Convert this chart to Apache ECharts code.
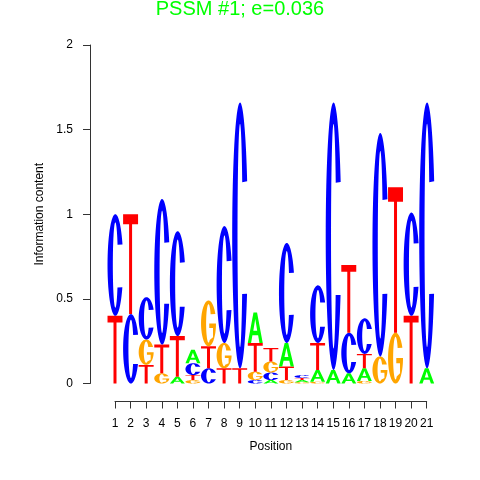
<!DOCTYPE html>
<html><head><meta charset="utf-8">
<script src="https://cdn.jsdelivr.net/npm/echarts@6/dist/echarts.min.js"></script>
<style>html,body{margin:0;padding:0;background:#fff}#c{width:480px;height:480px}</style>
</head><body><div id="c"></div>
<script>
// ---- data (information content per letter, per position) ----
const positions = [1,2,3,4,5,6,7,8,9,10,11,12,13,14,15,16,17,18,19,20,21];
const letters = ['A','C','G','T'];
const heightA = [0,    0,    0,    0,    0.04, 0.08, 0,    0,    0,    0.18, 0.02,  0.14, 0.012, 0.07, 0.08, 0.06, 0.075, 0,    0,    0,    0.09];
const heightC = [0.60, 0.41, 0.25, 0.86, 0.62, 0.07, 0.09, 0.69, 1.57, 0.02, 0.045, 0.59, 0.016, 0.34, 1.58, 0.24, 0.21,  1.32, 0,    0.61, 1.57];
const heightG = [0,    0,    0.15, 0.06, 0,    0.02, 0.27, 0.15, 0,    0.05, 0.065, 0.02, 0.008, 0.01, 0,    0,    0.015, 0.16, 0.30, 0,    0];
const heightT = [0.40, 0.59, 0.11, 0.17, 0.24, 0.03, 0.13, 0.09, 0.09, 0.17, 0.08,  0.08, 0.013, 0.16, 0,    0.40, 0.085, 0,    0.86, 0.40, 0];
const yTicks = [0, 0.5, 1, 1.5, 2];
const titleText = 'PSSM #1; e=0.036';

// ---- glyph outlines (unit box 0..100) ----
function pt(cx, cy, rx, ry, deg) {
  const r = deg * Math.PI / 180;
  return [cx + rx * Math.cos(r), cy + ry * Math.sin(r)];
}
function arc(cx, cy, rx, ry, from, to, step) {
  const out = [];
  const n = Math.ceil(Math.abs(to - from) / step);
  for (let i = 0; i <= n; i++) out.push(pt(cx, cy, rx, ry, from + (to - from) * i / n));
  return out;
}
function toPath(pts) {
  return pts.map((p, i) => (i ? 'L' : 'M') + p[0].toFixed(2) + ' ' + p[1].toFixed(2)).join(' ') + ' Z';
}
const IRX = 16, IRY = 42;
const innerLow = Math.asin(22 / IRY) * 180 / Math.PI;      // y = 72
const innerHigh = 360 - Math.asin(20 / IRY) * 180 / Math.PI; // y = 30
const pathC = toPath(
  arc(50, 50, 50, 50, -24, -334, 3).concat(arc(50, 50, IRX, IRY, innerLow, innerHigh, 3))
);
const pathG = toPath(
  arc(50, 50, 50, 50, -24, -360, 3)
    .concat([[55, 50], [55, 60], [80, 60], [80, 80]])
    .concat(arc(50, 50, IRX, IRY, 60, innerHigh, 3))
);
const pathA = 'M0 100 L38 0 L62 0 L100 100 L78 100 L69 75 L31 75 L22 100 Z M50 22 L37 60 L63 60 Z';
const pathT = 'M0 0 L100 0 L100 10 L60 10 L60 100 L40 100 L40 10 L0 10 Z';
const PATHS = [pathA, pathC, pathG, pathT];
const COLORS = ['#00FF00', '#0000FF', '#FFA500', '#FF0000'];

// ---- stack letters: smallest at the bottom ----
const heights = [heightA, heightC, heightG, heightT];
const stackData = [];
positions.forEach((pos, i) => {
  const items = letters.map((l, k) => ({k: k, h: heights[k][i]})).filter(d => d.h > 0);
  items.sort((a, b) => a.h - b.h);
  let base = 0;
  items.forEach(d => { stackData.push([pos, base, base + d.h, d.k]); base += d.h; });
});

const FONT = '"Liberation Sans", Arial, sans-serif';
const gridLeft = 115, gridTop = 45;
const chart = echarts.init(document.getElementById('c'));
chart.setOption({
  animation: false,
  title: {
    text: titleText, left: 'center', top: -1, padding: 0,
    textStyle: {fontSize: 20, fontWeight: 'normal', color: '#00FF00', fontFamily: FONT}
  },
  grid: {left: gridLeft, right: 53.3, top: gridTop, bottom: 96.5},
  xAxis: {
    type: 'value', min: 1, max: 21, interval: 1, offset: 18,
    name: 'Position', nameLocation: 'middle', nameGap: 39,
    nameTextStyle: {fontSize: 12, color: '#000', fontFamily: FONT},
    axisLine: {show: true, onZero: false, lineStyle: {color: '#333', width: 1}},
    axisTick: {show: true, length: 7, lineStyle: {color: '#333'}},
    axisLabel: {fontSize: 12, color: '#000', fontFamily: FONT, margin: 16,
      formatter: v => positions.indexOf(v) >= 0 ? String(v) : ''},
    splitLine: {show: false}
  },
  yAxis: {
    type: 'value', min: yTicks[0], max: yTicks[yTicks.length - 1], interval: 0.5,
    offset: gridLeft - 90,
    name: 'Information content', nameLocation: 'middle', nameGap: 44,
    nameTextStyle: {fontSize: 12, color: '#000', fontFamily: FONT},
    axisLine: {show: true, onZero: false, lineStyle: {color: '#333', width: 1}},
    axisTick: {show: true, length: 7, lineStyle: {color: '#333'}},
    axisLabel: {fontSize: 12, color: '#000', fontFamily: FONT, margin: 17},
    splitLine: {show: false}
  },
  series: [{
    type: 'custom',
    clip: false,
    silent: true,
    encode: {x: 0, y: [1, 2]},
    data: stackData,
    renderItem: function (params, api) {
      const x = api.value(0), y0 = api.value(1), y1 = api.value(2), k = api.value(3);
      const p0 = api.coord([x, y0]);
      const p1 = api.coord([x, y1]);
      const w = api.size([1, 0])[0] * 0.96;
      return {
        type: 'path',
        shape: {pathData: PATHS[k], x: p0[0] - w / 2, y: p1[1], width: w, height: Math.max(p0[1] - p1[1], 0.5), layout: 'cover'},
        style: {fill: COLORS[k], stroke: null}
      };
    }
  }]
});
</script>
</body></html>
